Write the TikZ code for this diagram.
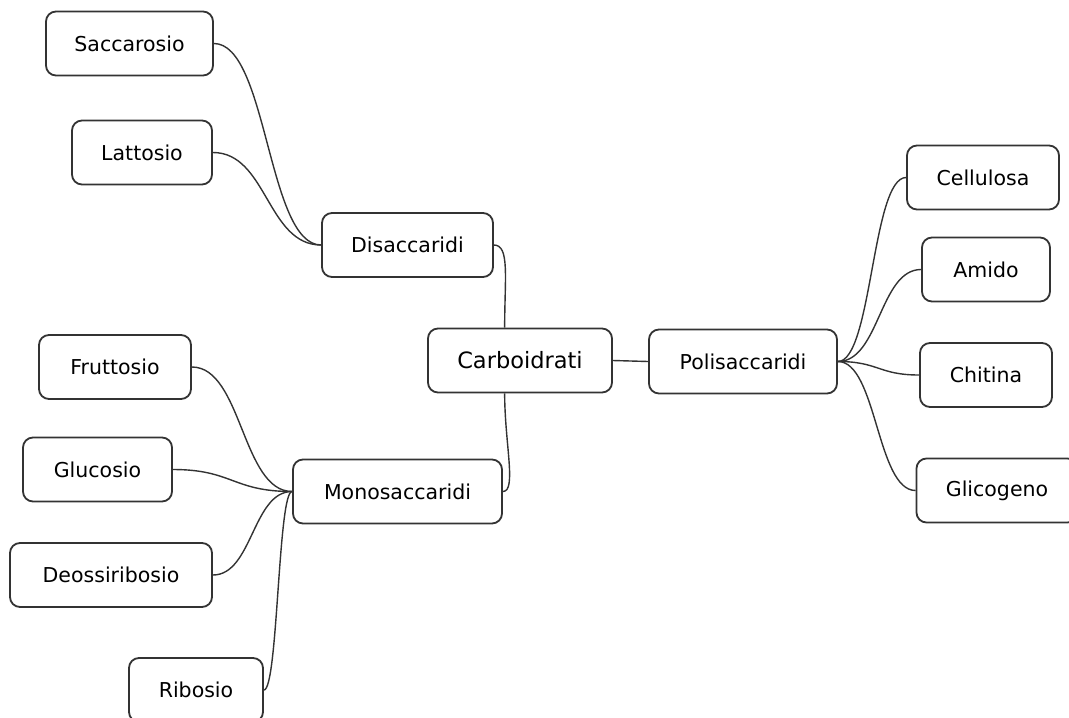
\documentclass[tikz,border=0pt]{standalone}
\usepackage{fontspec}
\setmainfont{DejaVu Sans}
\usetikzlibrary{calc}

\tikzset{
  topic/.style={draw=black!80, line width=1.8pt, rounded corners=10pt, fill=white,
    minimum height=64pt, inner xsep=4pt, font=\fontsize{20.5}{24}\selectfont},
  link/.style={to path={.. controls ($(\tikztostart)!.5!(\tikztostart -| \tikztotarget)$)
    and ($(\tikztotarget)!.5!(\tikztotarget -| \tikztostart)$) .. (\tikztotarget)}},
}

\begin{document}
\begin{tikzpicture}[x=1pt, y=-1pt, line width=1.4pt, draw=black!80]
  \useasboundingbox (0,0) rectangle (1069,718);

  % main topic and branches
  \node[topic, minimum width=184pt, font=\fontsize{22.5}{26}\selectfont] (carb) at (520,360.5) {Carboidrati};
  \node[topic, minimum width=171pt] (disa) at (407.5,245) {Disaccaridi};
  \node[topic, minimum width=209pt] (mono) at (397.5,491.5) {Monosaccaridi};
  \node[topic, minimum width=188pt] (poli) at (743,361.5) {Polisaccaridi};

  % leaves
  \foreach \name/\x/\y/\w/\lab in {sacc/129.5/43.5/167/Saccarosio, latt/142/152.5/140/Lattosio,
      frut/115/367/152/Fruttosio, gluc/97.5/469.5/149/Glucosio, deos/111/575/202/Deossiribosio,
      ribo/196/690/134/Ribosio, cell/983/177.5/152/Cellulosa, amid/986/269.5/128/Amido,
      chit/986/375/132/Chitina, glic/997/490.5/161/Glicogeno}
    \node[topic, minimum width=\w pt] (\name) at (\x,\y) {\lab};

  \draw (carb.east) -- (poli.west);
  \draw (disa.east) .. controls +(16,0) and +(0,-50) .. (carb.115);
  \draw (mono.east) .. controls +(14,0) and +(0,50) .. (carb.245);

  \foreach \leaf in {sacc, latt}
    \draw (\leaf.east) to[link] (disa.west);
  \foreach \leaf in {frut, gluc, deos, ribo}
    \draw (\leaf.east) to[link] (mono.west);
  \foreach \leaf in {cell, amid, chit, glic}
    \draw (poli.east) to[link] (\leaf.west);
\end{tikzpicture}
\end{document}
